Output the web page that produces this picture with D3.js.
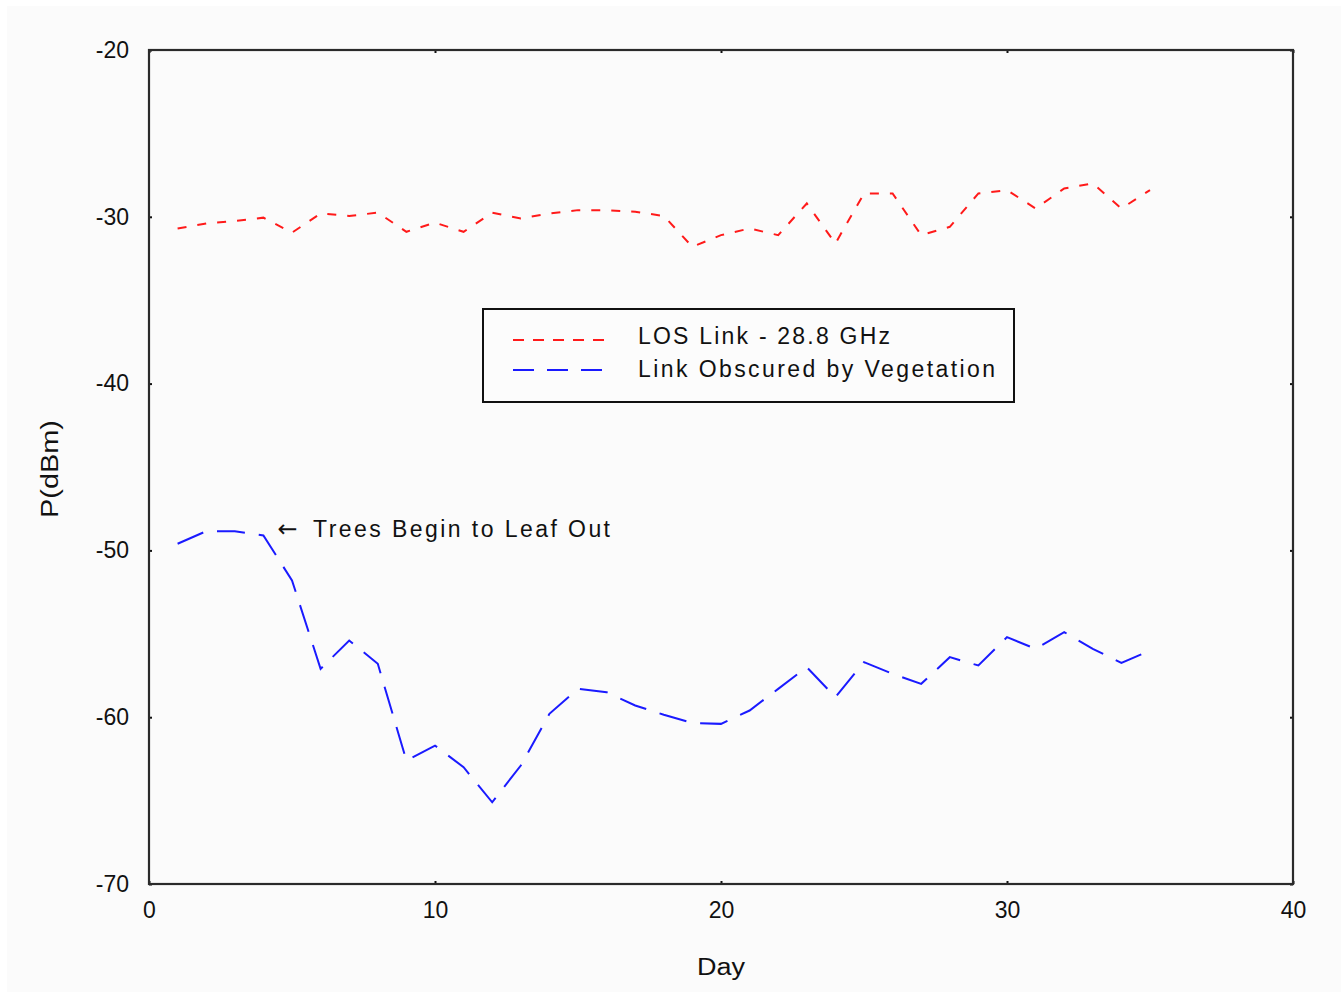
<!DOCTYPE html>
<html>
<head>
<meta charset="utf-8">
<script src="https://cdn.jsdelivr.net/npm/d3@7"></script>
<style>
  html, body { margin: 0; padding: 0; background: #ffffff; }
  svg { display: block; }
  text { font-family: "Liberation Sans", Arial, sans-serif; fill: #111; }
</style>
</head>
<body>
<script>
// ---- data ----
const days = d3.range(1, 36);
const losLink = [-30.7, -30.4, -30.25, -30.05, -30.95, -29.8, -29.95, -29.75, -30.9, -30.35,
                 -30.9, -29.75, -30.1, -29.8, -29.6, -29.6, -29.7, -29.95, -31.8, -31.1,
                 -30.7, -31.1, -29.2, -31.6, -28.6, -28.6, -31.1, -30.6, -28.6, -28.4,
                 -29.5, -28.3, -28.0, -29.5, -28.4];
const obscured = [-49.6, -48.85, -48.85, -49.1, -51.8, -57.1, -55.4, -56.8, -62.6, -61.7,
                  -63.0, -65.1, -62.9, -59.8, -58.3, -58.5, -59.3, -59.85, -60.35, -60.4,
                  -59.6, -58.3, -57.0, -58.8, -56.7, -57.4, -58.0, -56.4, -56.9, -55.2,
                  -55.9, -54.9, -55.9, -56.75, -56.0];
const xTicks = [0, 10, 20, 30, 40];
const yTicks = [-20, -30, -40, -50, -60, -70];
const seriesNames = ["LOS Link - 28.8 GHz", "Link Obscured by Vegetation"];
const annotationArrow = "\u2190";
const annotationText = "Trees Begin to Leaf Out";
const annotationPoint = {day: 4.6, value: -48.8};

// ---- layout ----
const W = 1341, H = 993;
const L = 149, R = 1293, T = 50, B = 884;

const svg = d3.select("body").append("svg").attr("width", W).attr("height", H);
svg.append("rect").attr("x", 7).attr("y", 6).attr("width", W - 7).attr("height", 986).attr("fill", "#fbfbfb");

const x = d3.scaleLinear().domain([0, 40]).range([L, R]);
const y = d3.scaleLinear().domain([-70, -20]).range([B, T]);

const fmt = d => String(d);

// axes (ticks inward, tiny)
const axStyle = g => {
  g.select(".domain").remove();
  g.selectAll(".tick line").attr("stroke", "#111").attr("stroke-width", 2);
  g.selectAll(".tick text").attr("font-size", 23).style("fill", "#111");
};
svg.append("g").attr("transform", `translate(0,${B})`)
  .call(d3.axisBottom(x).tickValues(xTicks).tickFormat(fmt).tickSizeInner(-3).tickPadding(18))
  .call(axStyle);
svg.append("g").attr("transform", `translate(0,${T})`)
  .call(d3.axisTop(x).tickValues(xTicks).tickFormat("").tickSizeInner(-3))
  .call(axStyle);
svg.append("g").attr("transform", `translate(${L},0)`)
  .call(d3.axisLeft(y).tickValues(yTicks).tickFormat(fmt).tickSizeInner(-3).tickPadding(20))
  .call(axStyle);
svg.append("g").attr("transform", `translate(${R},0)`)
  .call(d3.axisRight(y).tickValues(yTicks).tickFormat("").tickSizeInner(-3))
  .call(axStyle);

// frame
svg.append("rect").attr("x", L).attr("y", T).attr("width", R - L).attr("height", B - T)
  .attr("fill", "none").attr("stroke", "#2a2a2a").attr("stroke-width", 2.2);

// lines
const line = d3.line().x(d => x(d[0])).y(d => y(d[1]));
svg.append("path").datum(days.map((d, i) => [d, losLink[i]]))
  .attr("d", line).attr("fill", "none").attr("stroke", "#ff1a1a")
  .attr("stroke-width", 2).attr("stroke-dasharray", "9,11");
svg.append("path").datum(days.map((d, i) => [d, obscured[i]]))
  .attr("d", line).attr("fill", "none").attr("stroke", "#1a1aff")
  .attr("stroke-width", 2).attr("stroke-dasharray", "28,14");

// axis titles
svg.append("text").attr("x", 721).attr("y", 975).attr("text-anchor", "middle")
  .attr("font-size", 23).attr("textLength", 48).attr("lengthAdjust", "spacingAndGlyphs").text("Day");
svg.append("text").attr("transform", "translate(58,469) rotate(-90)").attr("text-anchor", "middle")
  .attr("font-size", 23).attr("textLength", 98).attr("lengthAdjust", "spacingAndGlyphs").text("P(dBm)");

// annotation
const ax0 = x(annotationPoint.day) - 3, ay0 = y(annotationPoint.value) + 7;
svg.append("text").attr("x", ax0).attr("y", ay0)
  .attr("font-size", 24).style("font-family", "'DejaVu Sans', sans-serif")
  .text(annotationArrow);
svg.append("text").attr("x", 313).attr("y", ay0)
  .attr("font-size", 23).attr("textLength", 297).attr("lengthAdjust", "spacing").text(annotationText);

// legend
const lg = svg.append("g");
lg.append("rect").attr("x", 483).attr("y", 309).attr("width", 531).attr("height", 93)
  .attr("fill", "#fcfcfc").attr("stroke", "#111").attr("stroke-width", 2);
const legendItems = [
  {name: seriesNames[0], color: "#ff1a1a", dash: "11,9", ly: 340, ty: 344, len: 252},
  {name: seriesNames[1], color: "#1a1aff", dash: "21,13", ly: 370, ty: 377, len: 357}
];
legendItems.forEach(it => {
  lg.append("line").attr("x1", 513).attr("x2", 612).attr("y1", it.ly).attr("y2", it.ly)
    .attr("stroke", it.color).attr("stroke-width", 2).attr("stroke-dasharray", it.dash);
  lg.append("text").attr("x", 638).attr("y", it.ty).attr("font-size", 23)
    .attr("textLength", it.len).attr("lengthAdjust", "spacing").text(it.name);
});
</script>
</body>
</html>
